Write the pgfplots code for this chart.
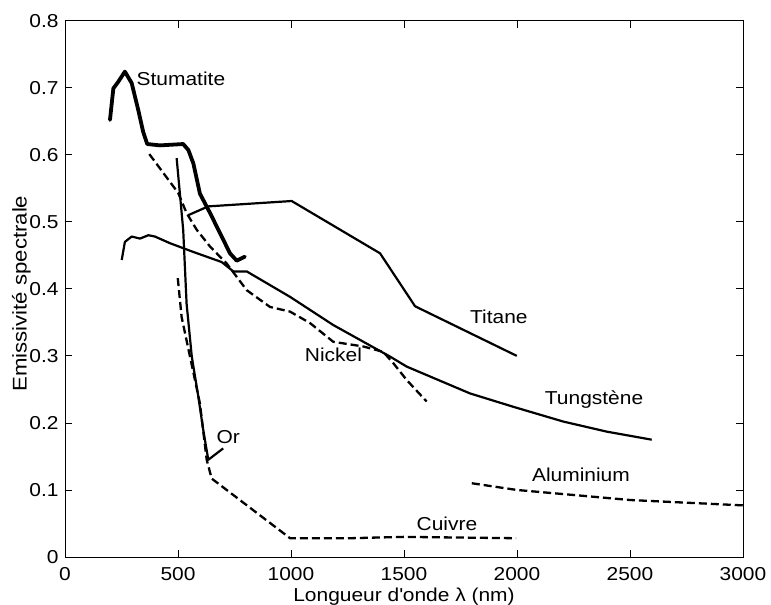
\documentclass[border=0pt]{standalone}
\usepackage{fontspec}
\setmainfont{Liberation Sans}[FakeStretch=1.12]
\usepackage{pgfplots}
\pgfplotsset{compat=1.18}
\begin{document}
\fontsize{18.7bp}{22bp}\selectfont
\begin{tikzpicture}
\begin{axis}[name=ax, scale only axis, width=678bp, height=536.3bp,
  xmin=0, xmax=3000, ymin=0, ymax=0.8,
  xtick={0,500,1000,1500,2000,2500,3000},
  ytick={0,0.1,0.2,0.3,0.4,0.5,0.6,0.7,0.8},
  tick align=inside, major tick length=7bp,
  axis line style={line width=0.8bp},
  tick style={line width=0.8bp, black},
  scaled x ticks=false,
  x tick label style={/pgf/number format/1000 sep={}, anchor=base, yshift=-24bp},
  y tick label style={/pgf/number format/fixed, /pgf/number format/precision=1},
  /pgf/number format/assume math mode=true,
  xlabel={Longueur d\textquotesingle onde λ (nm)},
  ylabel={Emissivité spectrale},
  xlabel style={at={(rel axis cs:0.5,0)}, anchor=base, yshift=-45bp},
  ylabel style={at={(rel axis cs:-0.0642,0.491)}, anchor=center, font=\fontsize{19.8bp}{23bp}\selectfont},
]
% Stumatite
\addplot[black, no markers, line width=3.8bp, line cap=round, line join=round] coordinates {
(199,0.652) (214,0.699) (236,0.709) (265,0.724) (295,0.707) (324,0.667)
(346,0.634) (364,0.616) (420,0.614) (523,0.616) (546,0.607) (568,0.587)
(597,0.542) (642,0.513) (686,0.483) (730,0.453) (760,0.442) (796,0.448)};
% Nickel
\addplot[black, no markers, line width=2.3bp, dash pattern=on 8bp off 4bp] coordinates {
(373,0.601) (501,0.543) (538,0.513) (583,0.488) (642,0.463) (715,0.438)
(804,0.398) (907,0.373) (996,0.366) (1084,0.349) (1187,0.321) (1320,0.314)
(1408,0.306) (1453,0.289) (1512,0.264) (1600,0.232)};
% Tungstene
\addplot[black, no markers, line width=2.2bp, line join=round] coordinates {
(251,0.443) (265,0.470) (295,0.478) (332,0.475) (369,0.480) (398,0.478)
(465,0.468) (568,0.455) (693,0.440) (745,0.426) (804,0.426) (996,0.388)
(1187,0.346) (1438,0.299) (1512,0.284) (1792,0.244) (1984,0.224)
(2205,0.202) (2397,0.187) (2596,0.175)};
% Titane
\addplot[black, no markers, line width=2.2bp, line join=round] coordinates {
(546,0.510) (634,0.523) (1003,0.531) (1394,0.453) (1549,0.374) (1999,0.300)};
% Or
\addplot[black, no markers, line width=2.2bp, line join=round] coordinates {
(494,0.595) (523,0.488) (538,0.378) (561,0.299) (590,0.239) (612,0.189)
(634,0.145) (700,0.162)};
% Cuivre
\addplot[black, no markers, line width=2.3bp, dash pattern=on 8bp off 4bp] coordinates {
(499,0.416) (516,0.358) (553,0.299) (597,0.229) (627,0.145) (649,0.117)
(996,0.028) (1261,0.028) (1500,0.030) (1996,0.028)};
% Aluminium
\addplot[black, no markers, line width=2.3bp, dash pattern=on 8bp off 4bp] coordinates {
(1800,0.110) (1999,0.100) (2500,0.085) (2999,0.077)};
\node at (axis cs:513,0.714) {Stumatite};
\node at (axis cs:1188,0.301) {Nickel};
\node at (axis cs:2341,0.235) {Tungstène};
\node at (axis cs:1920,0.358) {Titane};
\node at (axis cs:722,0.179) {Or};
\node at (axis cs:1690,0.049) {Cuivre};
\node at (axis cs:2283,0.123) {Aluminium};
\end{axis}
\pgfresetboundingbox
\path ([shift={(-65bp,-48bp)}]ax.south west) rectangle ([shift={(28bp,20.7bp)}]ax.north east);
\end{tikzpicture}
\end{document}
